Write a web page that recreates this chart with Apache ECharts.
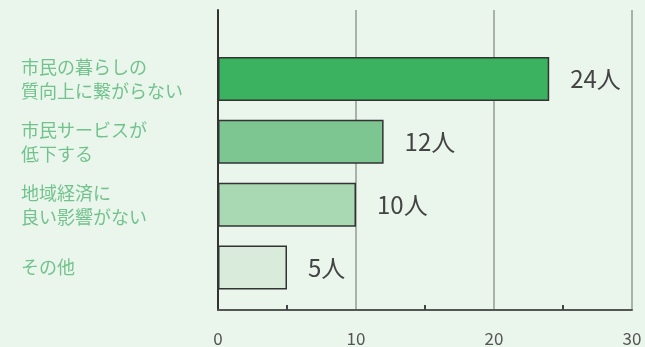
<!DOCTYPE html>
<html><head><meta charset="utf-8">
<script src="https://cdn.jsdelivr.net/npm/echarts@6/dist/echarts.min.js"></script>
<style>html,body{margin:0;padding:0;background:#eaf5ec;}#c{width:645px;height:347px;}</style>
</head><body><div id="c"></div>
<script>
const categories = ['市民の暮らしの\n質向上に繋がらない', '市民サービスが\n低下する', '地域経済に\n良い影響がない', 'その他'];
const values = [24, 12, 10, 5];
const unit = '人';
const axisTicks = [0, 10, 20, 30];
const barColors = ['#3bb25f', '#7dc692', '#a9d9b3', '#d9ecdc'];

const font = '"Noto Sans CJK JP", "Noto Sans", sans-serif';
const chart = echarts.init(document.getElementById('c'));
chart.setOption({
  backgroundColor: '#eaf5ec',
  animation: false,
  grid: [
    {left: 218, right: 13, top: 10, bottom: 37},
    {left: 218, right: 13, top: 47.5, bottom: 48}
  ],
  xAxis: [
    {gridIndex: 0, type: 'value', min: axisTicks[0], max: axisTicks[axisTicks.length-1], interval: 10,
      axisLine: {show: true, lineStyle: {color: '#555', width: 2}},
      axisTick: {show: false, inside: true},
      minorTick: {show: true, splitNumber: 2, length: 5, lineStyle: {color: '#444', width: 2}},
      splitLine: {show: true, lineStyle: {color: '#a9b1ab', width: 2}},
      axisLabel: {color: '#555', fontSize: 17, margin: 20, fontFamily: font}
    },
    {gridIndex: 1, type: 'value', min: axisTicks[0], max: axisTicks[axisTicks.length-1], show: false}
  ],
  yAxis: [
    {gridIndex: 0, type: 'value', min: 0, max: 1, show: true,
      axisLine: {show: true, lineStyle: {color: '#333', width: 2}},
      axisTick: {show: false}, axisLabel: {show: false}, splitLine: {show: false}},
    {gridIndex: 1, type: 'category', data: categories, inverse: true,
      axisLine: {show: false}, axisTick: {show: false},
      axisLabel: {align: 'left', margin: 197, color: '#72c28d', fontSize: 18, lineHeight: 24, fontFamily: font}
    }
  ],
  series: [{
    type: 'bar', xAxisIndex: 1, yAxisIndex: 1,
    barCategoryGap: '30%',
    data: values.map((v, i) => ({value: v, itemStyle: {color: barColors[i]}})),
    itemStyle: {borderColor: '#333', borderWidth: 1.5},
    label: {show: true, position: 'right', distance: 21, formatter: p => p.value + unit,
      color: '#444', fontSize: 24, fontFamily: font}
  }]
});
</script></body></html>
